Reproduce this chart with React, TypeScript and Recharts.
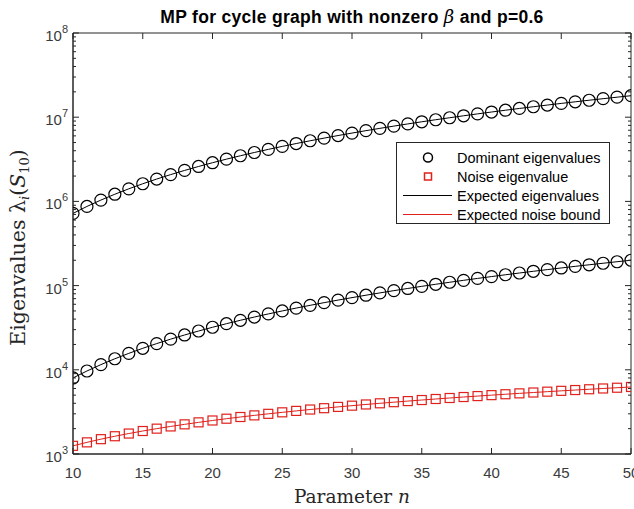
import React from 'react';
import { ComposedChart, Line, XAxis, YAxis, ReferenceArea, Label } from 'recharts';

const nValues = [10, 11, 12, 13, 14, 15, 16, 17, 18, 19, 20, 21, 22, 23, 24, 25, 26, 27, 28, 29, 30, 31, 32, 33, 34, 35, 36, 37, 38, 39, 40, 41, 42, 43, 44, 45, 46, 47, 48, 49, 50];

const dominantTop = [720000, 871000, 1037000, 1217000, 1411000, 1620000, 1843000, 2081000, 2333000, 2599000, 2880000, 3175000, 3485000, 3809000, 4147000, 4500000, 4867000, 5249000, 5645000, 6055000, 6480000, 6919000, 7373000, 7841000, 8323000, 8820000, 9331000, 9857000, 10397000, 10951000, 11520000, 12103000, 12701000, 13313000, 13939000, 14580000, 15235000, 15905000, 16589000, 17287000, 18000000];

const dominantLow = [8000, 9680, 11520, 13520, 15680, 18000, 20480, 23120, 25920, 28880, 32000, 35280, 38720, 42320, 46080, 50000, 54080, 58320, 62720, 67280, 72000, 76880, 81920, 87120, 92480, 98000, 103680, 109520, 115520, 121680, 128000, 134480, 141120, 147920, 154880, 162000, 169280, 176720, 184320, 192080, 200000];

const noiseValues = [1250, 1375, 1500, 1625, 1750, 1875, 2000, 2125, 2250, 2375, 2500, 2625, 2750, 2875, 3000, 3125, 3250, 3375, 3500, 3625, 3750, 3875, 4000, 4125, 4250, 4375, 4500, 4625, 4750, 4875, 5000, 5125, 5250, 5375, 5500, 5625, 5750, 5875, 6000, 6125, 6250];

const xTicks = [10, 15, 20, 25, 30, 35, 40, 45, 50];
const yMajorTicks = [1e3, 1e4, 1e5, 1e6, 1e7, 1e8];
const minorSteps = [2, 3, 4, 5, 6, 7, 8, 9];

const yAllTicks = [
  ...yMajorTicks,
  ...yMajorTicks.slice(0, -1).flatMap((d) => minorSteps.map((m) => m * d)),
];

const data = nValues.map((n, i) => ({
  n,
  top: dominantTop[i],
  low: dominantLow[i],
  noise: noiseValues[i],
}));

const PLOT_LEFT = 73;
const PLOT_RIGHT = 631;
const PLOT_TOP = 33;
const PLOT_BOTTOM = 454;
const AXIS = '#262626';
const RED = '#e0201b';
const SANS = '"Liberation Sans", Arial, sans-serif';
const SERIF = '"DejaVu Serif", "Liberation Serif", serif';

const YTick = ({ y, payload }: any) => {
  const v = payload.value;
  const major = yMajorTicks.includes(v);
  const len = major ? 6 : 3;
  return (
    <g>
      <line x1={PLOT_LEFT} x2={PLOT_LEFT + len} y1={y} y2={y} stroke={AXIS} />
      <line x1={PLOT_RIGHT} x2={PLOT_RIGHT - len} y1={y} y2={y} stroke={AXIS} />
      {major && (
        <text x={PLOT_LEFT - 5} y={y + 8} textAnchor="end" fill="#3a3a3a" fontSize={15} fontFamily={SANS}>
          <tspan>10</tspan>
          <tspan dy={-8} fontSize={11}>{Math.round(Math.log10(v))}</tspan>
        </text>
      )}
    </g>
  );
};

const XTick = ({ x, payload }: any) => (
  <g>
    <line x1={x} x2={x} y1={PLOT_BOTTOM} y2={PLOT_BOTTOM - 6} stroke={AXIS} />
    <line x1={x} x2={x} y1={PLOT_TOP} y2={PLOT_TOP + 6} stroke={AXIS} />
    <text x={x} y={PLOT_BOTTOM + 24} textAnchor="middle" fill="#3a3a3a" fontSize={15} fontFamily={SANS}>
      {payload.value}
    </text>
  </g>
);

const Circle = ({ cx, cy }: any) => (
  <circle cx={cx} cy={cy} r={6} fill="none" stroke="#000" strokeWidth={1.2} />
);

const Square = ({ cx, cy }: any) => (
  <rect x={cx - 4.5} y={cy - 4.5} width={9} height={9} fill="none" stroke={RED} strokeWidth={1.2} />
);

const YLabel = () => (
  <text
    transform={`translate(25, ${(PLOT_TOP + PLOT_BOTTOM) / 2 + 4}) rotate(-90)`}
    textAnchor="middle"
    fill={AXIS}
    fontSize={20.5}
    fontFamily={SERIF}
  >
    <tspan>Eigenvalues λ</tspan>
    <tspan fontSize={13} dy={4} fontStyle="italic">i</tspan>
    <tspan dy={-4}>(</tspan>
    <tspan fontStyle="italic">S</tspan>
    <tspan fontSize={13} dy={4}>10</tspan>
    <tspan dy={-4}>)</tspan>
  </text>
);

const XLabel = () => (
  <text x={352} y={503} textAnchor="middle" fill={AXIS} fontSize={18.5} fontFamily={SERIF}>
    <tspan>Parameter </tspan>
    <tspan fontStyle="italic">n</tspan>
  </text>
);

const legendRows = [
  { label: 'Dominant eigenvalues', kind: 'circle' },
  { label: 'Noise eigenvalue', kind: 'square' },
  { label: 'Expected eigenvalues', kind: 'black' },
  { label: 'Expected noise bound', kind: 'red' },
];

const LegendBox = () => (
  <div
    style={{
      position: 'absolute',
      left: 396,
      top: 142,
      width: 214,
      height: 82,
      border: `1px solid ${AXIS}`,
      background: '#fff',
      boxSizing: 'border-box',
      padding: '5px 0 0 0',
      fontFamily: SANS,
      fontSize: 14.5,
      color: '#000',
    }}
  >
    {legendRows.map((r) => (
      <div key={r.label} style={{ display: 'flex', alignItems: 'center', height: 19 }}>
        <svg width={60} height={19} style={{ flex: 'none' }}>
          {r.kind === 'circle' && <circle cx={31} cy={9.5} r={4.5} fill="none" stroke="#000" strokeWidth={1.5} />}
          {r.kind === 'square' && <rect x={27.5} y={6} width={7} height={7} fill="none" stroke={RED} strokeWidth={1.5} />}
          {r.kind === 'black' && <line x1={6} x2={55} y1={9.5} y2={9.5} stroke="#000" strokeWidth={1} />}
          {r.kind === 'red' && <line x1={6} x2={55} y1={9.5} y2={9.5} stroke={RED} strokeWidth={1} />}
        </svg>
        <span style={{ whiteSpace: 'nowrap' }}>{r.label}</span>
      </div>
    ))}
  </div>
);

export default function App() {
  return (
    <div style={{ position: 'absolute', left: 0, top: 0, width: 634, height: 509, background: '#fff', overflow: 'hidden' }}>
      <div
        style={{
          position: 'absolute',
          left: 102,
          width: 500,
          top: 6,
          textAlign: 'center',
          fontFamily: SANS,
          fontWeight: 700,
          fontSize: 17.5,
          letterSpacing: 0.3,
          color: '#000',
        }}
      >
        MP for cycle graph with nonzero <span style={{ fontFamily: SERIF, fontStyle: 'italic', fontWeight: 400, fontSize: 18 }}>β</span> and p=0.6
      </div>
      <ComposedChart
        width={634}
        height={509}
        data={data}
        margin={{ top: PLOT_TOP, right: 634 - PLOT_RIGHT, bottom: 0, left: 0 }}
      >
        <XAxis
          dataKey="n"
          type="number"
          domain={[10, 50]}
          ticks={xTicks}
          interval={0}
          height={509 - PLOT_BOTTOM}
          axisLine={{ stroke: AXIS }}
          tickLine={false}
          tick={<XTick />}
          allowDataOverflow
        >
          <Label content={<XLabel />} />
        </XAxis>
        <YAxis
          scale="log"
          domain={[1e3, 1e8]}
          ticks={yAllTicks}
          interval={0}
          width={PLOT_LEFT}
          axisLine={{ stroke: AXIS }}
          tickLine={false}
          tick={<YTick />}
          allowDataOverflow
        >
          <Label content={<YLabel />} />
        </YAxis>
        <ReferenceArea x1={10} x2={50} y1={1e3} y2={1e8} fill="none" stroke={AXIS} strokeWidth={1} fillOpacity={0} />
        <Line dataKey="top" stroke="#000" strokeWidth={1} dot={<Circle />} isAnimationActive={false} />
        <Line dataKey="low" stroke="#000" strokeWidth={1} dot={<Circle />} isAnimationActive={false} />
        <Line dataKey="noise" stroke={RED} strokeWidth={1} dot={<Square />} isAnimationActive={false} />
      </ComposedChart>
      <LegendBox />
    </div>
  );
}
